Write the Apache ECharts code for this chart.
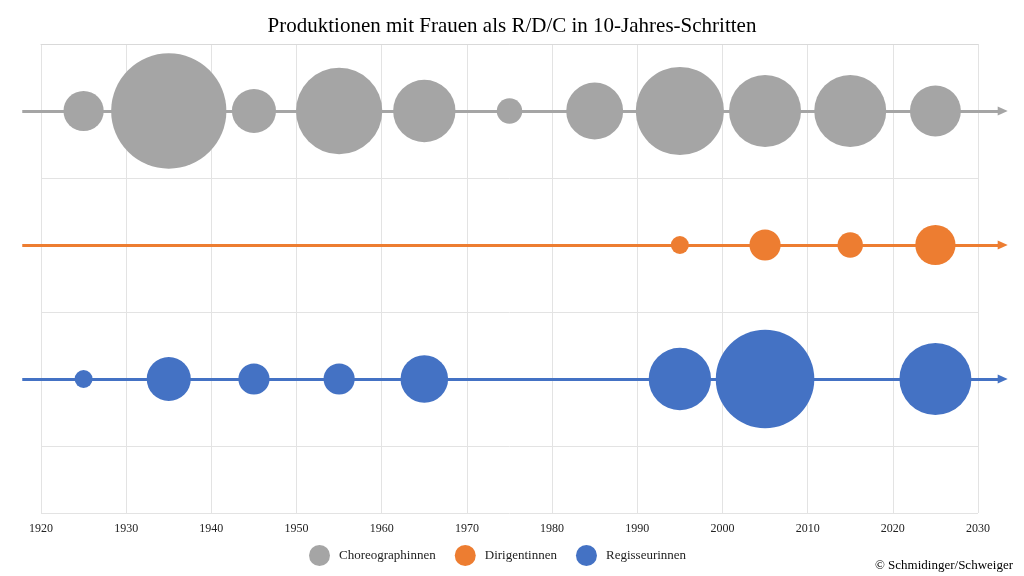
<!DOCTYPE html>
<html>
<head>
<meta charset="utf-8">
<script src="https://cdn.jsdelivr.net/npm/echarts@6/dist/echarts.min.js"></script>
<style>
  html, body { margin: 0; padding: 0; background: #fff; }
  #chart { width: 1024px; height: 576px; }
</style>
</head>
<body>
<div id="chart"></div>
<script>
// Zehnjahresschritte (Mitte des Jahrzehnts) und Anzahl der Produktionen
var choreoYears = [1925, 1935, 1945, 1955, 1965, 1975, 1985, 1995, 2005, 2015, 2025];
var choreoCounts = [5, 41, 6, 23, 12, 2, 10, 24, 16, 16, 8];

var dirigYears = [1995, 2005, 2015, 2025];
var dirigCounts = [1, 3, 2, 5];

var regieYears = [1925, 1935, 1945, 1955, 1965, 1995, 2005, 2025];
var regieCounts = [1, 6, 3, 3, 7, 12, 30, 16];

// Zeilen der drei Gruppen auf der (versteckten) y-Achse
var rowChoreo = 0.5;
var rowDirig = 1.5;
var rowRegie = 2.5;

// Anfang und Ende der Zeitstrahl-Pfeile (Jahre)
var arrowFrom = 1917.8;
var arrowTo = 2032.9;

var xTicks = { min: 1920, max: 2030, step: 10 };

var serif = '"Liberation Serif", "DejaVu Serif", serif';

var colors = { choreo: '#a5a5a5', dirig: '#ed7d31', regie: '#4472c4' };

// Hauptgitter; das Pfeilgitter wird im gleichen Massstab verbreitert
var W = 1024, gridLeft = 41, gridRight = 46;
var pxPerYear = (W - gridLeft - gridRight) / (xTicks.max - xTicks.min);
var arrowLeft = gridLeft + (arrowFrom - xTicks.min) * pxPerYear;
var arrowRight = W - (gridLeft + (arrowTo - xTicks.min) * pxPerYear);

function toPoints(years, counts, row) {
    return years.map(function (y, i) { return [y, row, counts[i]]; });
}

function bubbleSeries(name, color, years, counts, row) {
    return {
        name: name,
        type: 'scatter',
        z: 3,
        itemStyle: { color: color, opacity: 1 },
        symbolSize: function (d) { return 18 * Math.sqrt(d[2]); },
        data: toPoints(years, counts, row)
    };
}

// Pfeil-Linie auf dem zweiten (breiteren) Koordinatensystem
function arrowSeries(color, row) {
    return {
        type: 'scatter',
        xAxisIndex: 1,
        yAxisIndex: 1,
        z: 1,
        silent: true,
        data: [],
        markLine: {
            silent: true,
            animation: false,
            symbol: ['none', 'triangle'],
            symbolSize: [9, 10],
            label: { show: false },
            lineStyle: { color: color, width: 3, type: 'solid', opacity: 1 },
            data: [[{ coord: [arrowFrom, row] }, { coord: [arrowTo, row] }]]
        }
    };
}

var chart = echarts.init(document.getElementById('chart'));

var option = {
    animation: false,
    backgroundColor: '#fff',
    title: {
        text: 'Produktionen mit Frauen als R/D/C in 10-Jahres-Schritten',
        left: 'center',
        top: 11,
        textStyle: { fontFamily: serif, fontSize: 21, fontWeight: 'normal', color: '#000' }
    },
    legend: {
        data: ['Choreographinnen', 'Dirigentinnen', 'Regisseurinnen'],
        left: 309,
        top: 545,
        padding: 0,
        icon: 'circle',
        itemWidth: 21,
        itemHeight: 21,
        itemGap: 19,
        textStyle: { fontFamily: serif, fontSize: 13, color: '#222', padding: [0, 0, 0, 4] }
    },
    graphic: [{
        type: 'text',
        right: 11,
        top: 559,
        style: { text: '© Schmidinger/Schweiger', font: '13px ' + serif, fill: '#000' }
    }],
    grid: [
        { left: gridLeft, right: gridRight, top: 44, bottom: 63 },
        { left: arrowLeft, right: arrowRight, top: 44, bottom: 63 }
    ],
    xAxis: [{
        type: 'value',
        min: xTicks.min,
        max: xTicks.max,
        interval: xTicks.step,
        axisLine: { lineStyle: { color: '#d9d9d9' } },
        axisTick: { show: false },
        axisLabel: {
            fontFamily: serif, fontSize: 12, color: '#222', margin: 10,
            formatter: function (v) { return String(v); }
        },
        splitLine: { show: true, lineStyle: { color: '#e3e3e3' } }
    }, {
        type: 'value',
        gridIndex: 1,
        min: arrowFrom,
        max: arrowTo,
        show: false
    }],
    yAxis: [{
        type: 'value',
        inverse: true,
        min: 0,
        max: 3.5,
        interval: 1,
        axisLine: { show: false },
        axisTick: { show: false },
        axisLabel: { show: false },
        splitLine: { show: true, lineStyle: { color: '#e3e3e3' } }
    }, {
        type: 'value',
        gridIndex: 1,
        inverse: true,
        min: 0,
        max: 3.5,
        show: false
    }],
    series: [
        arrowSeries(colors.choreo, rowChoreo),
        arrowSeries(colors.dirig, rowDirig),
        arrowSeries(colors.regie, rowRegie),
        bubbleSeries('Choreographinnen', colors.choreo, choreoYears, choreoCounts, rowChoreo),
        bubbleSeries('Dirigentinnen', colors.dirig, dirigYears, dirigCounts, rowDirig),
        bubbleSeries('Regisseurinnen', colors.regie, regieYears, regieCounts, rowRegie)
    ]
};

chart.setOption(option);
</script>
</body>
</html>
